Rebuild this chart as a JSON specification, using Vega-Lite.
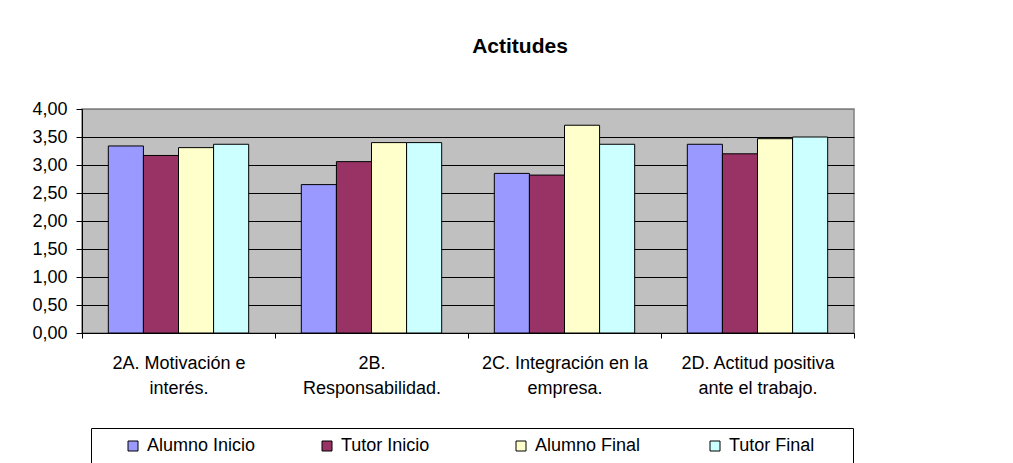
{
  "$schema": "https://vega.github.io/schema/vega-lite/v6.json",
  "autosize": "none",
  "width": 772,
  "height": 224,
  "padding": {"left": 82, "top": 109, "right": 159, "bottom": 130},
  "background": "white",
  "title": {
    "text": "Actitudes",
    "font": "Liberation Sans",
    "fontSize": 21,
    "fontWeight": "bold",
    "color": "black",
    "anchor": "middle",
    "baseline": "alphabetic",
    "dx": 52,
    "offset": 26
  },
  "data": {
    "values": [
      {"cat": "2A. Motivación e interés.", "serie": "Alumno Inicio", "valor": 3.34},
      {"cat": "2A. Motivación e interés.", "serie": "Tutor Inicio", "valor": 3.17},
      {"cat": "2A. Motivación e interés.", "serie": "Alumno Final", "valor": 3.31},
      {"cat": "2A. Motivación e interés.", "serie": "Tutor Final", "valor": 3.37},
      {"cat": "2B. Responsabilidad.", "serie": "Alumno Inicio", "valor": 2.65},
      {"cat": "2B. Responsabilidad.", "serie": "Tutor Inicio", "valor": 3.06},
      {"cat": "2B. Responsabilidad.", "serie": "Alumno Final", "valor": 3.40},
      {"cat": "2B. Responsabilidad.", "serie": "Tutor Final", "valor": 3.40},
      {"cat": "2C. Integración en la empresa.", "serie": "Alumno Inicio", "valor": 2.85},
      {"cat": "2C. Integración en la empresa.", "serie": "Tutor Inicio", "valor": 2.82},
      {"cat": "2C. Integración en la empresa.", "serie": "Alumno Final", "valor": 3.71},
      {"cat": "2C. Integración en la empresa.", "serie": "Tutor Final", "valor": 3.37},
      {"cat": "2D. Actitud positiva ante el trabajo.", "serie": "Alumno Inicio", "valor": 3.37},
      {"cat": "2D. Actitud positiva ante el trabajo.", "serie": "Tutor Inicio", "valor": 3.20},
      {"cat": "2D. Actitud positiva ante el trabajo.", "serie": "Alumno Final", "valor": 3.47},
      {"cat": "2D. Actitud positiva ante el trabajo.", "serie": "Tutor Final", "valor": 3.50}
    ]
  },
  "mark": {"type": "bar", "stroke": "black", "strokeWidth": 1},
  "encoding": {
    "x": {
      "field": "cat",
      "type": "nominal",
      "sort": null,
      "scale": {"paddingInner": 0, "paddingOuter": 0},
      "axis": {
        "title": null,
        "labelAngle": 0,
        "labelFont": "Liberation Sans",
        "labelFontSize": 18,
        "labelColor": "black",
        "labelPadding": 16,
        "labelLineHeight": 25,
        "labelLimit": 300,
        "labelOverlap": false,
        "labelExpr": "datum.value == '2A. Motivación e interés.' ? ['2A. Motivación e', 'interés.'] : datum.value == '2B. Responsabilidad.' ? ['2B.', 'Responsabilidad.'] : datum.value == '2C. Integración en la empresa.' ? ['2C. Integración en la', 'empresa.'] : datum.value == '2D. Actitud positiva ante el trabajo.' ? ['2D. Actitud positiva', 'ante el trabajo.'] : ''",
        "domainColor": "black",
        "tickColor": "black",
        "tickSize": 5,
        "tickBand": "extent",
        "grid": false
      }
    },
    "xOffset": {
      "field": "serie",
      "type": "nominal",
      "sort": ["Alumno Inicio", "Tutor Inicio", "Alumno Final", "Tutor Final"],
      "scale": {"paddingInner": 0, "paddingOuter": 0.75}
    },
    "y": {
      "field": "valor",
      "type": "quantitative",
      "scale": {"domain": [0, 4], "nice": false},
      "axis": {
        "title": null,
        "values": [0, 0.5, 1, 1.5, 2, 2.5, 3, 3.5, 4],
        "labelExpr": "replace(format(datum.value, '.2f'), '.', ',')",
        "labelFont": "Liberation Sans",
        "labelFontSize": 18,
        "labelColor": "black",
        "labelPadding": 9,
        "tickSize": 6,
        "tickColor": "black",
        "domainColor": "black",
        "grid": true,
        "gridColor": {"condition": {"test": "datum.value == 4", "value": "#808080"}, "value": "black"},
        "gridOpacity": 1
      }
    },
    "color": {
      "field": "serie",
      "type": "nominal",
      "sort": ["Alumno Inicio", "Tutor Inicio", "Alumno Final", "Tutor Final"],
      "scale": {
        "domain": ["Alumno Inicio", "Tutor Inicio", "Alumno Final", "Tutor Final"],
        "range": ["#9999FF", "#993366", "#FFFFCC", "#CCFFFF"]
      },
      "legend": {
        "title": "\u00a0",
        "titleOrient": "right",
        "titlePadding": 30,
        "titleFontSize": 10,
        "orient": "none",
        "legendX": 9,
        "legendY": 319,
        "direction": "horizontal",
        "columns": 4,
        "gridAlign": "all",
        "columnPadding": 38,
        "symbolType": "square",
        "symbolSize": 100,
        "symbolStrokeColor": "black",
        "symbolStrokeWidth": 1,
        "symbolOffset": 24,
        "labelFont": "Liberation Sans",
        "labelFontSize": 18,
        "labelColor": "black",
        "labelOffset": 5,
        "labelLimit": 300,
        "strokeColor": "black",
        "fillColor": "white",
        "padding": 9
      }
    }
  },
  "config": {
    "view": {"fill": "#C0C0C0", "stroke": "#808080", "strokeWidth": 1.5}
  }
}
